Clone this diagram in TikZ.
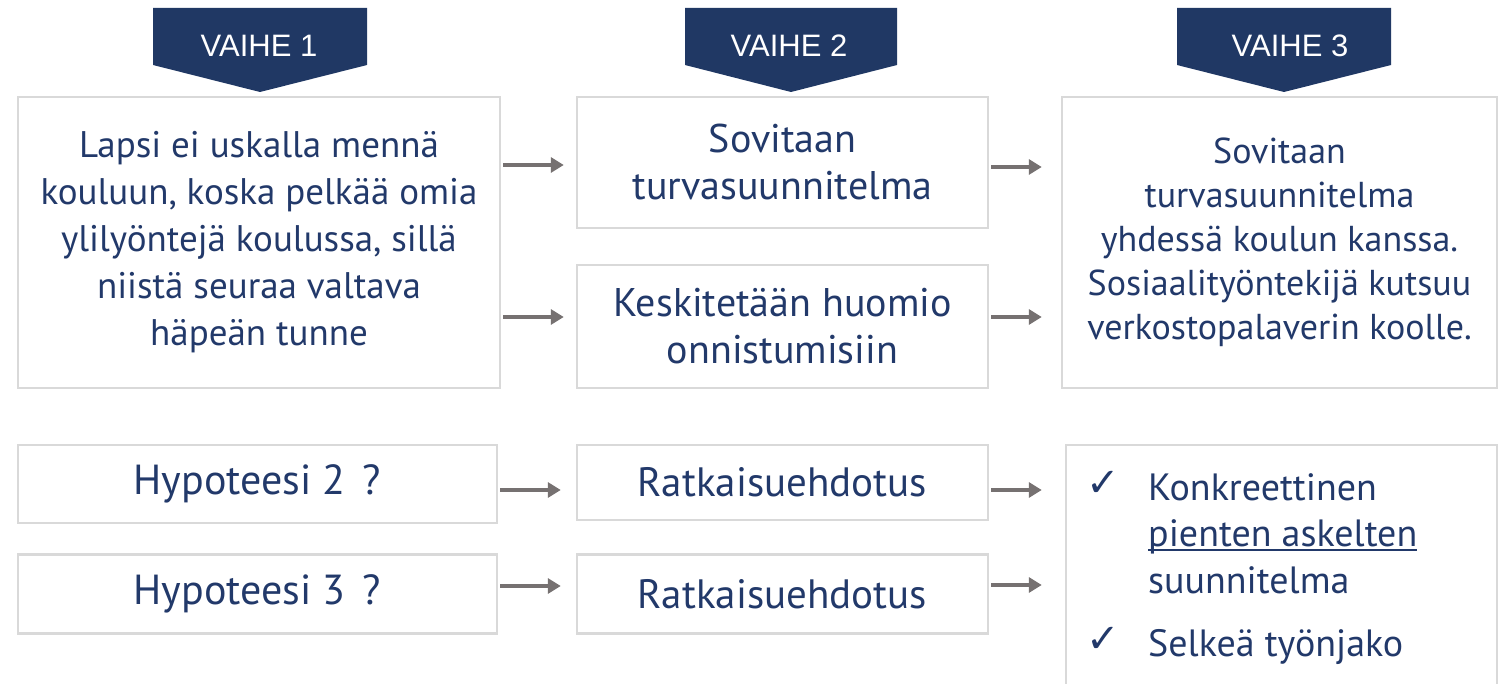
\documentclass[tikz,border=0pt]{standalone}
\usepackage{fontspec}
\setmainfont{PT Sans}
\newfontfamily\hdrfont{Liberation Sans}
\newfontfamily\symfont{DejaVu Sans}
\usetikzlibrary{arrows.meta}
\definecolor{navy}{HTML}{203864}
\definecolor{ink}{HTML}{22396A}
\definecolor{boxgray}{HTML}{D9D9D9}
\definecolor{arrgray}{HTML}{767171}
\newcommand\myul[1]{{\setbox0\hbox{#1}\leavevmode\rlap{\copy0}\raisebox{-5pt}{\color{ink}\rule{\wd0}{1.6pt}}}}
\begin{document}
\begin{tikzpicture}[x=1pt,y=-1pt,
  box/.style={draw=boxgray, line width=2.5pt, fill=white, inner sep=0pt, align=center, text=ink},
  fa/.style={font=\fontsize{37}{47}\selectfont},
  fm/.style={font=\fontsize{40}{47}\selectfont},
  fb/.style={font=\fontsize{36}{44}\selectfont},
  fh/.style={font=\fontsize{42}{47}\selectfont},
  fr/.style={font=\fontsize{41}{47}\selectfont},
  hdrbox/.style={fill=navy},
  hdrtext/.style={text=white, inner sep=0pt, font=\hdrfont\fontsize{31}{34}\selectfont},
  listtext/.style={text=ink, inner sep=0pt, anchor=base west, font=\fontsize{38}{47}\selectfont},
  tick/.style={text=ink, inner sep=0pt, anchor=base west, font=\symfont\fontsize{40}{42}\selectfont},
  arr/.style={draw=arrgray, line width=4pt, -{Triangle[length=13pt,width=15pt]}},
]
\fill[white] (0,0) rectangle (1499,684);
\clip (0,0) rectangle (1499,684);

% headers
\fill[hdrbox] (153,8) -- (367,8) -- (367,65) -- (260,92) -- (153,65) -- cycle;
\fill[hdrbox] (685,8) -- (897,8) -- (897,65) -- (791,92) -- (685,65) -- cycle;
\fill[hdrbox] (1177,8) -- (1391,8) -- (1391,65) -- (1284,92) -- (1177,65) -- cycle;
\node[hdrtext] (h1) at (259,46) {VAIHE 1};
\node[hdrtext] (h2) at (789,46) {VAIHE 2};
\node[hdrtext] (h3) at (1290,46) {VAIHE 3};

% top row
\node[box, fa, minimum width=482, minimum height=291] (b1) at (259,242.5)
  {Lapsi ei uskalla mennä\\kouluun, koska pelkää omia\\ylilyöntejä koulussa, sillä\\niistä seuraa valtava\\häpeän tunne};
\node[box, fm, minimum width=411, minimum height=131] (b2a) at (782.5,162.5)
  {Sovitaan\\turvasuunnitelma};
\node[box, fm, minimum width=411, minimum height=123] (b2b) at (782.5,326.5)
  {Keskitetään huomio\\onnistumisiin};
\node[box, fb, minimum width=435, minimum height=291] (b3) at (1279.5,242.5)
  {Sovitaan\\turvasuunnitelma\\yhdessä koulun kanssa.\\Sosiaalityöntekijä kutsuu\\verkostopalaverin koolle.};

% bottom rows
\node[box, fh, minimum width=479, minimum height=78] (hy2) at (257.5,484) {Hypoteesi 2\hspace{6pt} ?};
\node[box, fh, minimum width=479, minimum height=79] (hy3) at (257.5,594) {Hypoteesi 3\hspace{6pt} ?};
\node[box, fr, minimum width=411, minimum height=75] (r1) at (782.5,482.5) {Ratkaisuehdotus};
\node[box, fr, minimum width=411, minimum height=79] (r2) at (782.5,594) {Ratkaisuehdotus};
\node[box, minimum width=431, minimum height=275] (b3b) at (1281.5,582.5) {};

\node[tick] (t1) at (1086,496) {✓};
\node[tick] (t2) at (1086,652) {✓};
\node[listtext] (l1) at (1148,500) {Konkreettinen};
\node[listtext] (l2) at (1148,546) {\myul{pienten askelten}};
\node[listtext] (l3) at (1148,593) {suunnitelma};
\node[listtext] (l4) at (1148,656) {Selkeä työnjako};

% arrows
\draw[arr] ([xshift=2pt]b1.east |- 0,165) -- ([xshift=-12pt]b2a.west |- 0,165);
\draw[arr] ([xshift=2pt]b1.east |- 0,317) -- ([xshift=-12pt]b2b.west |- 0,317);
\draw[arr] ([xshift=2pt]b2a.east |- 0,167) -- ([xshift=-19pt]b3.west |- 0,167);
\draw[arr] ([xshift=2pt]b2b.east |- 0,317) -- ([xshift=-19pt]b3.west |- 0,317);
\draw[arr] ([xshift=2pt]hy2.east |- 0,490) -- ([xshift=-15pt]r1.west |- 0,490);
\draw[arr] ([xshift=2pt]hy3.east |- 0,586) -- ([xshift=-15pt]r2.west |- 0,586);
\draw[arr] ([xshift=2pt]r1.east |- 0,490) -- ([xshift=-23pt]b3b.west |- 0,490);
\draw[arr] ([xshift=2pt]r2.east |- 0,585) -- ([xshift=-23pt]b3b.west |- 0,585);
\end{tikzpicture}
\end{document}
